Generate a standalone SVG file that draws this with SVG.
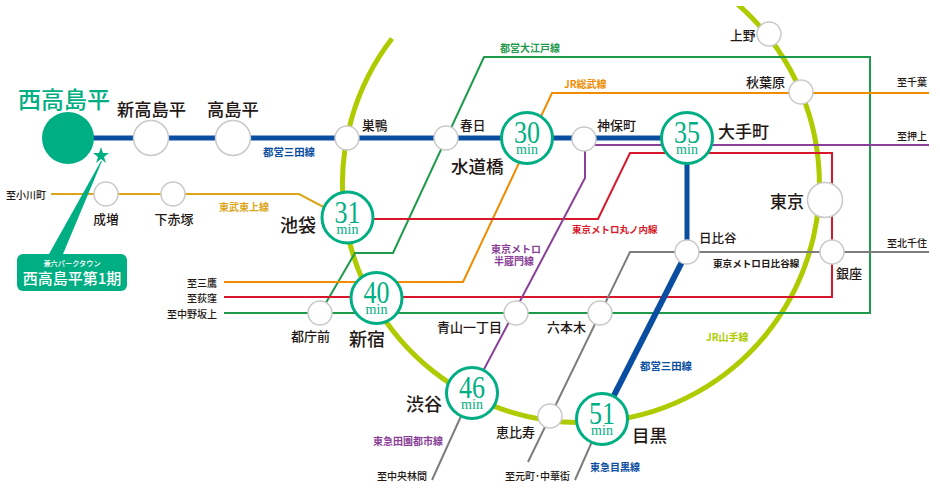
<svg xmlns="http://www.w3.org/2000/svg" width="940" height="496" viewBox="0 0 940 496">
<defs><clipPath id="ringclip"><rect x="0" y="6" width="940" height="490"/></clipPath></defs>
<style>
text{font-family:"Noto Sans CJK JP","Noto Sans",sans-serif;fill:#231815;dominant-baseline:central}
.st{font-weight:500}
.sm{font-size:10px;font-weight:500}
.ln{font-size:10px;font-weight:700}
.num{font-family:"Liberation Serif",serif;font-size:31px;fill:#00ae83;text-anchor:middle;dominant-baseline:auto}
.min{font-family:"Liberation Serif",serif;font-size:14px;fill:#00ae83;text-anchor:middle;dominant-baseline:auto}
.l{fill:none;stroke-width:2}
.s{fill:#fff;stroke:#c9c9c9;stroke-width:1.5}
.r{fill:#fff;stroke:#00ae83;stroke-width:3}
</style>
<rect width="940" height="496" fill="#fff"/>
<g id="connectors">
<path d="M392,38.500A238.500,238.500 0 1 0 735,2" fill="none" stroke="#aecb00" stroke-width="5" clip-path="url(#ringclip)"/>
<path class="l" stroke="#dba619" d="M51,194H299L335,213"/>
<path class="l" stroke="#1f9a4d" d="M224,313H870V57H484L393,253H355L320,313"/>
<path class="l" stroke="#f08c00" d="M224,282H463L552,93H929"/>
<path class="l" stroke="#d7182a" d="M224,297H832V153H630L598,219H348"/>
<path class="l" stroke="#8a3f98" d="M929,145H585M585,139V178L472,392"/>
<path class="l" stroke="#7d7d7d" d="M929,252H630L528,462"/>
<path class="l" stroke="#7d7d7d" d="M472,392L432,480M602,419L575,480"/>
<path fill="none" stroke="#0a4ea2" stroke-width="5" d="M68,138H687V252"/>
<path fill="none" stroke="#0a4ea2" stroke-width="6" d="M687,252L602,419"/>
</g>
<g id="line-labels">
<text class="ln" x="263" y="151" style="fill:#0a4ea2;font-size:10.400px">都営三田線</text>
<text class="ln" x="219" y="206" style="fill:#dba619">東武東上線</text>
<text class="ln" x="500" y="47" style="fill:#1f9a4d">都営大江戸線</text>
<text class="ln" x="564" y="83" style="fill:#f08c00">JR総武線</text>
<text class="ln" x="572" y="229" style="fill:#d7182a;font-size:9.500px">東京メトロ丸ノ内線</text>
<text class="ln" x="516" y="248" text-anchor="middle" style="fill:#8a3f98">東京メトロ</text>
<text class="ln" x="514" y="260" text-anchor="middle" style="fill:#8a3f98">半蔵門線</text>
<text class="ln" x="713" y="263" style="font-size:9.600px">東京メトロ日比谷線</text>
<text class="ln" x="706" y="336" style="fill:#aecb00">JR山手線</text>
<text class="ln" x="640" y="365" style="fill:#0a4ea2;font-size:10.400px">都営三田線</text>
<text class="ln" x="373" y="440" style="fill:#8a3f98">東急田園都市線</text>
<text class="ln" x="590" y="466" style="fill:#0a4ea2">東急目黒線</text>
</g>
<g id="destinations">
<text class="sm" x="6" y="194">至小川町</text>
<text class="sm" x="217" y="282" text-anchor="end">至三鷹</text>
<text class="sm" x="217" y="297" text-anchor="end">至荻窪</text>
<text class="sm" x="217" y="313" text-anchor="end">至中野坂上</text>
<text class="sm" x="927" y="81" text-anchor="end">至千葉</text>
<text class="sm" x="927" y="135" text-anchor="end">至押上</text>
<text class="sm" x="927" y="242" text-anchor="end">至北千住</text>
<text class="sm" x="427" y="475" text-anchor="end">至中央林間</text>
<text class="sm" x="570" y="475" text-anchor="end">至元町･中華街</text>
</g>
<g id="n-nishitakashimadaira">
<circle cx="68" cy="138" r="26" fill="#00ae83"/>
<text class="st" x="18" y="98" style="fill:#00ae83;font-size:23px">西高島平</text>
<polygon points="101,147 103,153 109,153 104,157 106,163 101,159 96,163 98,157 93,153 99,153" fill="#00ae83"/>
<polygon points="101,161 49,254 63,254 102,161" fill="#00ae83"/>
<rect x="17" y="254" width="110" height="37" rx="6" fill="#00ae83"/>
<text x="72" y="263" text-anchor="middle" style="fill:#fff;font-size:7.200px;font-weight:500">兼六パークタウン</text>
<text x="72" y="277" text-anchor="middle" style="fill:#fff;font-size:15px;font-weight:500">西高島平第1期</text>
</g>
<g id="n-shintakashimadaira"><circle class="s" cx="151" cy="138" r="17.500"/><text class="st" x="117" y="108" style="font-size:17.300px">新高島平</text></g>
<g id="n-takashimadaira"><circle class="s" cx="233" cy="138" r="17.500"/><text class="st" x="207" y="108" style="font-size:17.300px">高島平</text></g>
<g id="n-sugamo"><circle class="s" cx="347" cy="138" r="12"/><text class="st" x="362" y="124" style="font-size:12.700px">巣鴨</text></g>
<g id="n-kasuga"><circle class="s" cx="446" cy="138" r="12"/><text class="st" x="460" y="124" style="font-size:12.700px">春日</text></g>
<g id="n-suidobashi"><circle class="r" cx="527" cy="138" r="25.500"/><text class="num" x="527" y="143" textLength="26" lengthAdjust="spacingAndGlyphs">30</text><text class="min" x="527" y="154">min</text><text class="st" x="451" y="165" style="font-size:17.500px">水道橋</text></g>
<g id="n-jimbocho"><circle class="s" cx="584" cy="139" r="12"/><text class="st" x="597" y="124" style="font-size:13px">神保町</text></g>
<g id="n-otemachi"><circle class="r" cx="687" cy="138" r="25.500"/><text class="num" x="687" y="143" textLength="26" lengthAdjust="spacingAndGlyphs">35</text><text class="min" x="687" y="154">min</text><text class="st" x="718" y="130" style="font-size:17px">大手町</text></g>
<g id="n-ueno"><circle class="s" cx="769" cy="34" r="12"/><text class="st" x="730" y="34" style="font-size:12.700px">上野</text></g>
<g id="n-akihabara"><circle class="s" cx="801" cy="92" r="12"/><text class="st" x="746" y="81" style="font-size:13px">秋葉原</text></g>
<g id="n-tokyo"><circle class="s" cx="825" cy="200" r="17.500"/><text class="st" x="770" y="200" style="font-size:17px">東京</text></g>
<g id="n-ginza"><circle class="s" cx="832" cy="252" r="12"/><text class="st" x="836" y="272" style="font-size:13px">銀座</text></g>
<g id="n-hibiya"><circle class="s" cx="687" cy="252" r="12"/><text class="st" x="699" y="237" style="font-size:12.500px">日比谷</text></g>
<g id="n-narimasu"><circle class="s" cx="106" cy="194" r="12"/><text class="st" x="106" y="218" text-anchor="middle" style="font-size:12.700px">成増</text></g>
<g id="n-shimoakatsuka"><circle class="s" cx="173" cy="194" r="12"/><text class="st" x="174" y="218" text-anchor="middle" style="font-size:13px">下赤塚</text></g>
<g id="n-ikebukuro"><circle class="r" cx="347.500" cy="217.500" r="25.500"/><text class="num" x="347.500" y="222.500" textLength="26" lengthAdjust="spacingAndGlyphs">31</text><text class="min" x="347.500" y="233.500">min</text><text class="st" x="280" y="224" style="font-size:18px">池袋</text></g>
<g id="n-tochomae"><circle class="s" cx="320" cy="313" r="12"/><text class="st" x="291" y="335" style="font-size:13px">都庁前</text></g>
<g id="n-shinjuku"><circle class="r" cx="376.500" cy="298" r="25.500"/><text class="num" x="376.500" y="303" textLength="26" lengthAdjust="spacingAndGlyphs">40</text><text class="min" x="376.500" y="314">min</text><text class="st" x="349" y="338" style="font-size:18px">新宿</text></g>
<g id="n-aoyama"><circle class="s" cx="516" cy="313" r="12"/><text class="st" x="437" y="326" style="font-size:13px">青山一丁目</text></g>
<g id="n-roppongi"><circle class="s" cx="600" cy="313" r="12"/><text class="st" x="547" y="326" style="font-size:13px">六本木</text></g>
<g id="n-shibuya"><circle class="r" cx="472" cy="393" r="25.500"/><text class="num" x="472" y="398" textLength="26" lengthAdjust="spacingAndGlyphs">46</text><text class="min" x="472" y="409">min</text><text class="st" x="406" y="403" style="font-size:18px">渋谷</text></g>
<g id="n-ebisu"><circle class="s" cx="550" cy="416" r="12"/><text class="st" x="496" y="431" style="font-size:13px">恵比寿</text></g>
<g id="n-meguro"><circle class="r" cx="602" cy="419" r="25.500"/><text class="num" x="602" y="424" textLength="26" lengthAdjust="spacingAndGlyphs">51</text><text class="min" x="602" y="435">min</text><text class="st" x="632" y="434" style="font-size:17.500px">目黒</text></g>
</svg>
